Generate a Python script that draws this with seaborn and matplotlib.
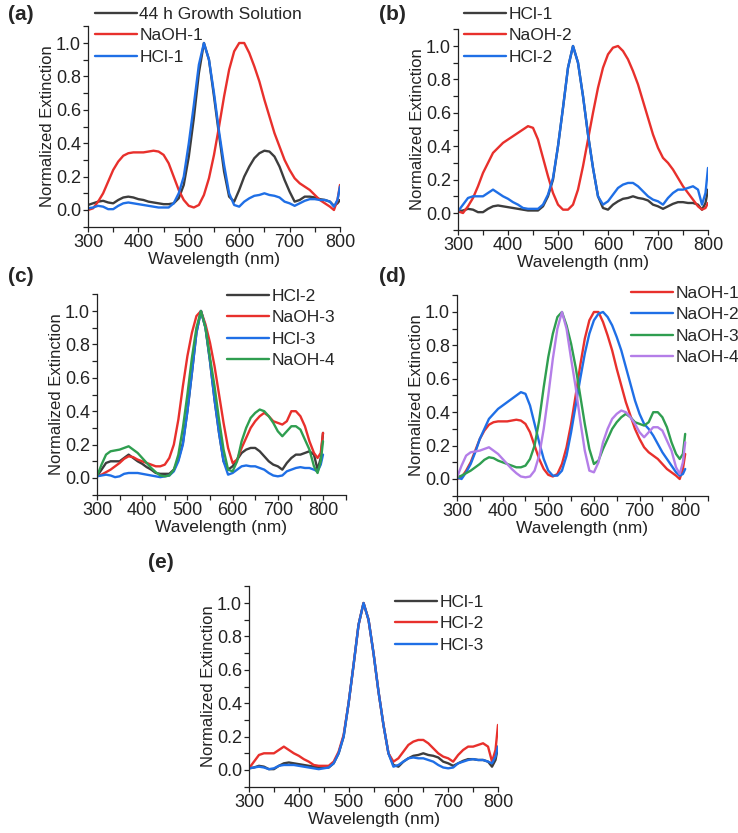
import matplotlib
matplotlib.use("Agg")
import matplotlib.pyplot as plt
from matplotlib.ticker import MultipleLocator, FormatStrFormatter
import seaborn as sns

# wavelength grid (nm)
wl = [300, 310, 320, 330, 340, 350, 360, 370, 380, 390,
      400, 410, 420, 430, 440, 450, 460, 470, 480, 490,
      500, 510, 520, 530, 540, 550, 560, 570, 580, 590,
      600, 610, 620, 630, 640, 650, 660, 670, 680, 690,
      700, 710, 720, 730, 740, 750, 760, 770, 780,
      788, 795, 800]

growth = [0.03, 0.04, 0.05, 0.055, 0.045, 0.04, 0.06, 0.075, 0.08, 0.075,
          0.065, 0.06, 0.05, 0.045, 0.04, 0.035, 0.035, 0.04, 0.07, 0.15,
          0.32, 0.55, 0.82, 1.0, 0.9, 0.68, 0.45, 0.23, 0.08, 0.05,
          0.12, 0.2, 0.26, 0.31, 0.34, 0.355, 0.35, 0.32, 0.26, 0.18,
          0.11, 0.05, 0.06, 0.08, 0.08, 0.075, 0.065, 0.06, 0.05,
          0.025, 0.04, 0.06]

naoh1 = [0.0, 0.01, 0.05, 0.1, 0.17, 0.24, 0.29, 0.325, 0.34, 0.345,
         0.345, 0.345, 0.35, 0.355, 0.35, 0.33, 0.28, 0.2, 0.12, 0.06,
         0.025, 0.015, 0.03, 0.09, 0.19, 0.33, 0.5, 0.68, 0.84, 0.95,
         1.0, 1.0, 0.94, 0.86, 0.77, 0.66, 0.56, 0.46, 0.38, 0.3,
         0.24, 0.19, 0.16, 0.14, 0.12, 0.09, 0.06, 0.04, 0.02,
         0.0, 0.06, 0.15]

naoh2 = [0.01, 0.0, 0.04, 0.09, 0.16, 0.24, 0.3, 0.36, 0.39, 0.42,
         0.44, 0.46, 0.48, 0.5, 0.52, 0.51, 0.44, 0.33, 0.22, 0.12,
         0.05, 0.02, 0.02, 0.05, 0.14, 0.28, 0.44, 0.6, 0.75, 0.87,
         0.95, 0.99, 1.0, 0.97, 0.92, 0.85, 0.77, 0.67, 0.57, 0.47,
         0.39, 0.33, 0.3, 0.26, 0.21, 0.16, 0.12, 0.08, 0.04,
         0.02, 0.03, 0.06]

naoh3 = [0.01, 0.02, 0.035, 0.05, 0.07, 0.09, 0.115, 0.13, 0.125, 0.11,
         0.1, 0.09, 0.08, 0.07, 0.07, 0.08, 0.12, 0.2, 0.35, 0.55,
         0.73, 0.87, 0.97, 1.0, 0.92, 0.81, 0.67, 0.5, 0.33, 0.18,
         0.09, 0.11, 0.18, 0.24, 0.3, 0.34, 0.37, 0.39, 0.37, 0.34,
         0.33, 0.32, 0.34, 0.4, 0.4, 0.37, 0.31, 0.22, 0.15,
         0.12, 0.15, 0.27]

naoh4 = [0.01, 0.08, 0.14, 0.16, 0.165, 0.17, 0.18, 0.19, 0.17, 0.15,
         0.12, 0.09, 0.06, 0.035, 0.015, 0.01, 0.015, 0.05, 0.14, 0.3,
         0.5, 0.72, 0.9, 1.0, 0.9, 0.72, 0.55, 0.35, 0.17, 0.05,
         0.04, 0.1, 0.22, 0.3, 0.36, 0.39, 0.41, 0.4, 0.37, 0.33,
         0.28, 0.25, 0.28, 0.31, 0.31, 0.29, 0.23, 0.17, 0.07,
         0.03, 0.1, 0.22]

hcl1 = [0.01, 0.015, 0.025, 0.02, 0.005, 0.005, 0.025, 0.04, 0.045, 0.04,
        0.035, 0.03, 0.025, 0.02, 0.015, 0.015, 0.015, 0.04, 0.1, 0.2,
        0.4, 0.63, 0.87, 1.0, 0.9, 0.7, 0.47, 0.27, 0.1, 0.03,
        0.02, 0.05, 0.07, 0.085, 0.09, 0.1, 0.09, 0.085, 0.075, 0.05,
        0.04, 0.025, 0.04, 0.055, 0.065, 0.065, 0.06, 0.06, 0.05,
        0.02, 0.06, 0.14]

hcl2 = [0.01, 0.05, 0.09, 0.1, 0.1, 0.1, 0.12, 0.14, 0.12, 0.1,
        0.085, 0.065, 0.05, 0.03, 0.025, 0.025, 0.025, 0.05, 0.11, 0.21,
        0.4, 0.63, 0.87, 1.0, 0.9, 0.7, 0.47, 0.27, 0.1, 0.05,
        0.07, 0.11, 0.15, 0.17, 0.18, 0.18, 0.16, 0.13, 0.1, 0.08,
        0.07, 0.05, 0.09, 0.12, 0.14, 0.14, 0.15, 0.16, 0.14,
        0.05, 0.12, 0.27]

hcl3 = [0.01, 0.015, 0.02, 0.015, 0.005, 0.01, 0.025, 0.03, 0.03, 0.03,
        0.025, 0.02, 0.015, 0.01, 0.005, 0.01, 0.015, 0.04, 0.1, 0.2,
        0.4, 0.63, 0.87, 1.0, 0.9, 0.7, 0.47, 0.27, 0.1, 0.02,
        0.03, 0.05, 0.07, 0.075, 0.07, 0.07, 0.06, 0.05, 0.03, 0.015,
        0.01, 0.015, 0.04, 0.05, 0.06, 0.065, 0.06, 0.06, 0.05,
        0.04, 0.08, 0.14]

BLACK = "#3d3d3d"
RED = "#e8302c"
BLUE = "#1f6fe6"
GREEN = "#2f9e50"
PURPLE = "#b47ee8"

sns.set_style("ticks")
plt.rcParams["font.family"] = ["Liberation Sans", "DejaVu Sans"]

W, H = 738, 833
fig = plt.figure(figsize=(W / 100, H / 100), dpi=100)

# label, series, axes box in px (left, top, right, bottom), xmax, legend anchor px, label pos px
panels = [
    ("(a)", [("44 h Growth Solution", growth, BLACK), ("NaOH-1", naoh1, RED), ("HCl-1", hcl1, BLUE)],
     (88, 26.3, 340, 226.7), 800, (95, 7), (21, 15)),
    ("(b)", [("HCl-1", hcl1, BLACK), ("NaOH-2", naoh2, RED), ("HCl-2", hcl2, BLUE)],
     (458, 29.3, 708, 229.7), 800, (464, 7), (392, 15)),
    ("(c)", [("HCl-2", hcl2, BLACK), ("NaOH-3", naoh3, RED), ("HCl-3", hcl3, BLUE), ("NaOH-4", naoh4, GREEN)],
     (97, 294.3, 345.6, 494.7), 850, (227, 289), (21, 276)),
    ("(d)", [("NaOH-1", naoh1, RED), ("NaOH-2", naoh2, BLUE), ("NaOH-3", naoh3, GREEN), ("NaOH-4", naoh4, PURPLE)],
     (457, 295.3, 708, 495.7), 850, (631, 286), (392, 276)),
    ("(e)", [("HCl-1", hcl1, BLACK), ("HCl-2", hcl2, RED), ("HCl-3", hcl3, BLUE)],
     (249, 586.3, 498, 786.7), 800, (395, 595), (161, 562)),
]

for tag, series, box, xmax, leg_xy, tag_xy in panels:
    l, t, r, b = box
    ax = fig.add_axes([l / W, 1 - b / H, (r - l) / W, (b - t) / H])
    for name, vals, col in series:
        sns.lineplot(x=wl, y=vals, color=col, lw=1.7, label=name, ax=ax,
                     sort=False, estimator=None)
    ax.set_xlim(300, xmax)
    ax.set_ylim(-0.1, 1.1)
    ax.xaxis.set_major_locator(MultipleLocator(100))
    ax.xaxis.set_minor_locator(MultipleLocator(50))
    ax.yaxis.set_major_locator(MultipleLocator(0.2))
    ax.yaxis.set_minor_locator(MultipleLocator(0.1))
    ax.yaxis.set_major_formatter(FormatStrFormatter("%.1f"))
    if xmax > 800:
        ax.set_xticks([300, 400, 500, 600, 700, 800])
    ax.tick_params(which="both", direction="out", length=3.5, width=0.9,
                   labelsize=13, pad=1.5, colors="#222222")
    for s in ("top", "right"):
        ax.spines[s].set_visible(False)
    for s in ("left", "bottom"):
        ax.spines[s].set_linewidth(0.9)
        ax.spines[s].set_color("#222222")
    ax.set_xlabel("Wavelength (nm)", fontsize=12.5, labelpad=1, color="#222222")
    ax.set_ylabel("Normalized Extinction", fontsize=12, labelpad=1, color="#222222")
    ax.legend(loc="upper left", bbox_to_anchor=(leg_xy[0] / W, 1 - leg_xy[1] / H),
              bbox_transform=fig.transFigure, frameon=False, fontsize=12.5,
              borderpad=0, borderaxespad=0, handlelength=2.4, handletextpad=0.15,
              labelspacing=0.35)
    fig.text(tag_xy[0] / W, 1 - tag_xy[1] / H, tag, fontsize=15, fontweight="bold",
             ha="center", va="center")

fig.savefig("out.png", dpi=100)
